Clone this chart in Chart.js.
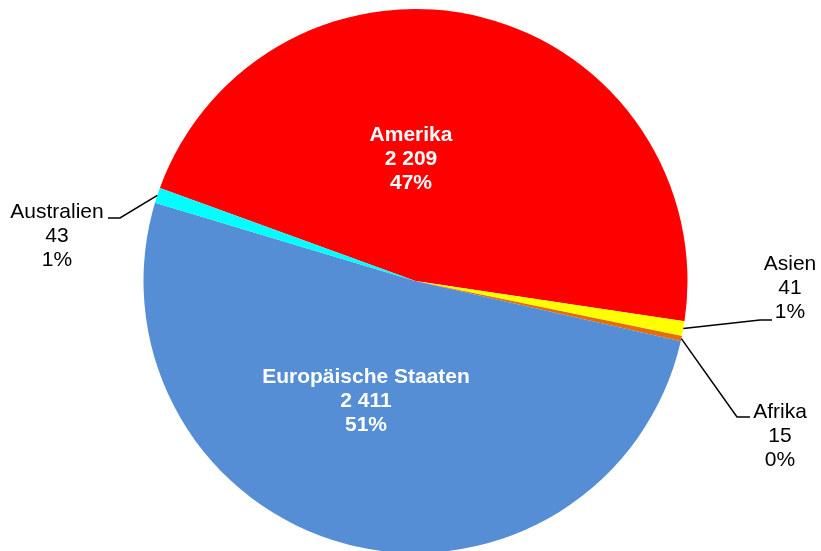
<!DOCTYPE html>
<html>
<head>
<meta charset="utf-8">
<script src="https://cdn.jsdelivr.net/npm/chart.js@4"></script>
<style>
  body { margin: 0; background: #fff; }
</style>
</head>
<body>
<canvas id="myChart" width="821" height="551"></canvas>
<script>
// data
var regionen = ["Amerika", "Asien", "Afrika", "Europäische Staaten", "Australien"];
var werte = [2209, 41, 15, 2411, 43];
var farben = ["#FF0000", "#FFFF00", "#E46C0A", "#558ED5", "#00FFFF"];

// label layout: inside = white bold at (x, y of first line), outside = leader line elbow + end
var labelLayout = [
    { inside: true, x: 411, y: 135 },
    { inside: false, x: 790, y: 264, elbow: [760, 320], end: [772, 320] },
    { inside: false, x: 780, y: 412, elbow: [737, 417], end: [750, 417] },
    { inside: true, x: 366, y: 377 },
    { inside: false, x: 57, y: 212, elbow: [120, 218], end: [108, 218] }
];

function formatZahl(n) {
    return String(n).replace(/\B(?=(\d{3})+(?!\d))/g, " ");
}

var summe = werte.reduce(function (a, b) { return a + b; }, 0);

var beschriftung = {
    id: "beschriftung",
    afterDraw: function (chart) {
        var ctx = chart.ctx;
        var meta = chart.getDatasetMeta(0);
        ctx.save();
        ctx.textAlign = "center";
        ctx.textBaseline = "middle";
        for (var i = 0; i < regionen.length; i++) {
            var lay = labelLayout[i];
            var zeilen = [regionen[i], formatZahl(werte[i]), Math.round(werte[i] / summe * 100) + "%"];
            if (lay.inside) {
                ctx.fillStyle = "#FFFFFF";
                ctx.font = "bold 21px 'Liberation Sans', Arial, sans-serif";
            } else {
                var arc = meta.data[i];
                var p = arc.getProps(["x", "y", "startAngle", "endAngle", "outerRadius"], true);
                var mitte = (p.startAngle + p.endAngle) / 2;
                var sx = p.x + Math.cos(mitte) * p.outerRadius;
                var sy = p.y + Math.sin(mitte) * p.outerRadius;
                ctx.strokeStyle = "#000000";
                ctx.lineWidth = 1.5;
                ctx.beginPath();
                ctx.moveTo(sx, sy);
                ctx.lineTo(lay.elbow[0], lay.elbow[1]);
                ctx.lineTo(lay.end[0], lay.end[1]);
                ctx.stroke();
                ctx.fillStyle = "#000000";
                ctx.font = "21px 'Liberation Sans', Arial, sans-serif";
            }
            for (var z = 0; z < zeilen.length; z++) {
                ctx.fillText(zeilen[z], lay.x, lay.y + z * 24);
            }
        }
        ctx.restore();
    }
};

var ctx = document.getElementById("myChart").getContext("2d");
var myChart = new Chart(ctx, {
    type: "pie",
    data: {
        labels: regionen,
        datasets: [
            {
                data: werte,
                backgroundColor: farben,
                borderWidth: 0,
                radius: 272
            }
        ]
    },
    options: {
        responsive: false,
        animation: false,
        rotation: -70,
        layout: { padding: { left: 20, right: 10, top: 11, bottom: 0 } },
        plugins: {
            legend: { display: false },
            tooltip: { enabled: false }
        }
    },
    plugins: [beschriftung]
});
</script>
</body>
</html>
